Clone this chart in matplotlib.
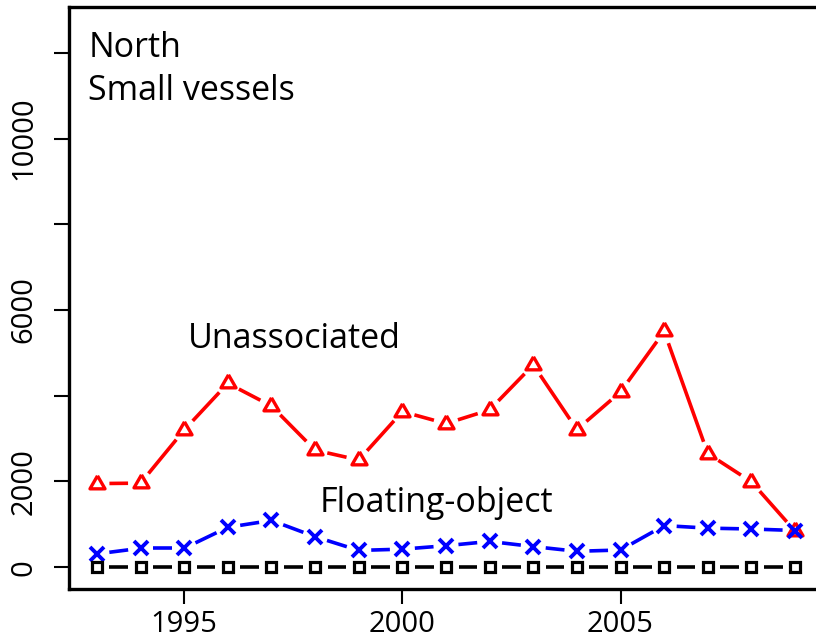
import matplotlib
matplotlib.use("Agg")
import matplotlib.pyplot as plt
import numpy as np

years = list(range(1993, 2010))
unassociated = [1950, 1960, 3200, 4290, 3760, 2730, 2500, 3630, 3350, 3670,
                4720, 3210, 4090, 5500, 2650, 1990, 840]
floating = [310, 440, 440, 930, 1090, 710, 390, 420, 500, 600,
            480, 370, 400, 970, 910, 890, 855]
other = [15, 15, 15, 15, 15, 15, 15, 15, 15, 15, 15, 15, 15, 15, 15, 15, 15]

ytick_vals = [0, 2000, 4000, 6000, 8000, 10000, 12000]
ytick_labels = ["0", "2000", "", "6000", "", "10000", ""]
xtick_vals = [1995, 2000, 2005]

plt.rcParams['font.family'] = ['Open Sans', 'DejaVu Sans']

fig = plt.figure(figsize=(8.16, 6.4), dpi=100)
ax = fig.add_axes([69 / 816, 51 / 640, (823 - 69) / 816, (589 - 7) / 640])
ax.set_xlim(1992.36, 2009.64)
ax.set_ylim(-510, 13070)

# R style open triangle, point at circumcentre
tri = [(0, 1.555), (-1.347, -0.778), (1.347, -0.778), (0, 1.555)]


def gapped(x, y, gap, color):
    # lines that stop short of the points, like R's type="b"
    pts = ax.transData.transform(np.column_stack([x, y]))
    inv = ax.transData.inverted()
    for p0, p1 in zip(pts[:-1], pts[1:]):
        d = p1 - p0
        n = np.hypot(d[0], d[1])
        if n <= 2 * gap:
            continue
        u = d / n
        a = inv.transform(p0 + u * gap)
        b = inv.transform(p1 - u * gap)
        ax.plot([a[0], b[0]], [a[1], b[1]], color=color, lw=2.6,
                solid_capstyle='butt')


gapped(years, unassociated, 12.5, 'red')
ax.plot(years, unassociated, ls='none', marker=tri, ms=12.5,
        mfc='none', mec='red', mew=2.4)

gapped(years, floating, 12.5, 'blue')
ax.plot(years, floating, ls='none', marker='x', ms=9.5, mec='blue', mew=2.8)

gapped(years, other, 12.5, 'black')
ax.plot(years, other, ls='none', marker='s', ms=7.5,
        mfc='none', mec='black', mew=2.3)

ax.text(1992.80, 11910, "North", fontsize=24.5, va='baseline')
ax.text(1992.80, 10907, "Small vessels", fontsize=24.5, va='baseline')
ax.text(1997.52, 5118, "Unassociated", fontsize=24.5, ha='center', va='baseline')
ax.text(2000.78, 1291, "Floating-object", fontsize=24.5, ha='center', va='baseline')

ax.set_xticks(xtick_vals)
ax.set_xticklabels([str(v) for v in xtick_vals])
ax.set_yticks(ytick_vals)
ax.set_yticklabels(ytick_labels, rotation=90, va='center')
ax.tick_params(axis='both', length=10.8, width=1.5, labelsize=21)
ax.tick_params(axis='x', pad=4)
ax.tick_params(axis='y', pad=11)
for s in ax.spines.values():
    s.set_linewidth(2.4)

fig.savefig("out.png", dpi=100)
